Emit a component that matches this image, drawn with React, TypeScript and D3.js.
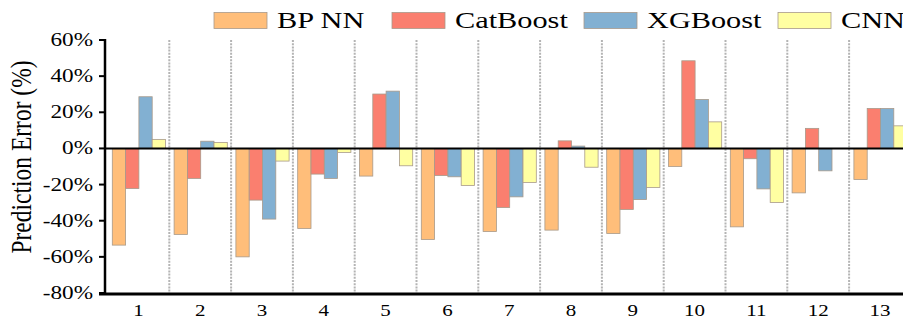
import React from 'react';
import * as d3 from 'd3';

const categories = ['1', '2', '3', '4', '5', '6', '7', '8', '9', '10', '11', '12', '13'];
const seriesNames = ['BP NN', 'CatBoost', 'XGBoost', 'CNN'];
const bpnn = [-53.5, -47.6, -60, -44.3, -15.3, -50.4, -46, -45.2, -47.1, -10, -43.4, -24.6, -17.2];
const catboost = [-22.2, -16.6, -28.6, -14.2, 30.1, -15, -32.7, 4.2, -33.8, 48.5, -5.7, 11.1, 22.1];
const xgboost = [28.6, 4.0, -39.1, -16.6, 31.7, -15.7, -26.8, 1.3, -28.3, 27.1, -22.4, -12.4, 22.1];
const cnn = [5.0, 3.3, -7.0, -2.2, -9.6, -20.5, -18.8, -10.4, -21.6, 14.7, -29.9, 0, 12.5];
const yTicks = [60, 40, 20, 0, -20, -40, -60, -80];
const colors = ['#FFBE7A', '#FA7F6F', '#82B0D2', '#FFFFA2'];

const seriesValues = [bpnn, catboost, xgboost, cnn];
const FONT = '"Liberation Serif", "DejaVu Serif", serif';
const SX = 1.29; // the original figure is stretched horizontally

const App = () => {
  const width = 903;
  const height = 320;

  const x = d3.scaleBand<string>().domain(categories).range([107.5, 107.5 + 13 * 61.8]);
  const xSub = d3.scaleBand<string>().domain(seriesNames).range([4.8, 4.8 + 53.2]);
  const y = d3.scaleLinear().domain([-80, 60]).range([293, 40]);

  const legendX = [214, 392, 584, 778];

  return (
    <svg width={width} height={height} style={{ position: 'absolute', left: 0, top: 0, background: '#fff' }}>
      {/* dotted separators */}
      {categories.map(c => (
        <line key={'sep' + c} x1={x(c)! + x.bandwidth()} x2={x(c)! + x.bandwidth()}
          y1={y(60)} y2={y(-80)} stroke="#b4b4b4" strokeWidth={2} strokeDasharray="2,1.2" />
      ))}

      {/* bars */}
      {seriesValues.map((vals, s) => (
        <g key={seriesNames[s]}>
          {vals.map((v, i) => (
            v === 0 ? null :
            <rect key={i} x={x(categories[i])! + xSub(seriesNames[s])!} width={xSub.bandwidth()}
              y={y(Math.max(0, v))} height={Math.abs(y(v) - y(0))}
              fill={colors[s]} stroke="#a89a8a" strokeWidth={0.8} />
          ))}
        </g>
      ))}

      {/* zero line */}
      <line x1={105} x2={width} y1={y(0)} y2={y(0)} stroke="#000" strokeWidth={2} />

      {/* y axis */}
      <line x1={105} x2={105} y1={y(60) - 1} y2={y(-80) + 1} stroke="#000" strokeWidth={2.5} />
      {yTicks.map(t => (
        <g key={'yt' + t}>
          <line x1={99} x2={105} y1={y(t)} y2={y(t)} stroke="#000" strokeWidth={2} />
          <g transform={`translate(93,${y(t) + 6}) scale(${SX},1)`}>
            <text textAnchor="end" fontFamily={FONT} fontSize={18} fill="#000">{t + '%'}</text>
          </g>
        </g>
      ))}

      {/* x axis */}
      <line x1={99} x2={width} y1={294} y2={294} stroke="#000" strokeWidth={3} />
      {categories.map(c => (
        <g key={'xt' + c} transform={`translate(${x(c)! + x.bandwidth() / 2},316) scale(${SX * 0.93},1)`}>
          <text textAnchor="middle" fontFamily={FONT} fontSize={17.5} fill="#000">{c}</text>
        </g>
      ))}

      {/* y title */}
      <g transform={`translate(31,157) scale(${SX},1) rotate(-90)`}>
        <text textAnchor="middle" fontFamily={FONT} fontSize={23.5} fill="#000">Prediction Error (%)</text>
      </g>

      {/* legend */}
      {seriesNames.map((n, s) => (
        <g key={'lg' + n}>
          <rect x={legendX[s]} y={12.5} width={53} height={16} fill={colors[s]} stroke="#a89a8a" strokeWidth={0.8} />
          <g transform={`translate(${legendX[s] + 63},28) scale(${SX},1)`}>
            <text fontFamily={FONT} fontSize={23.5} fill="#000">{n}</text>
          </g>
        </g>
      ))}
    </svg>
  );
};

export default App;
